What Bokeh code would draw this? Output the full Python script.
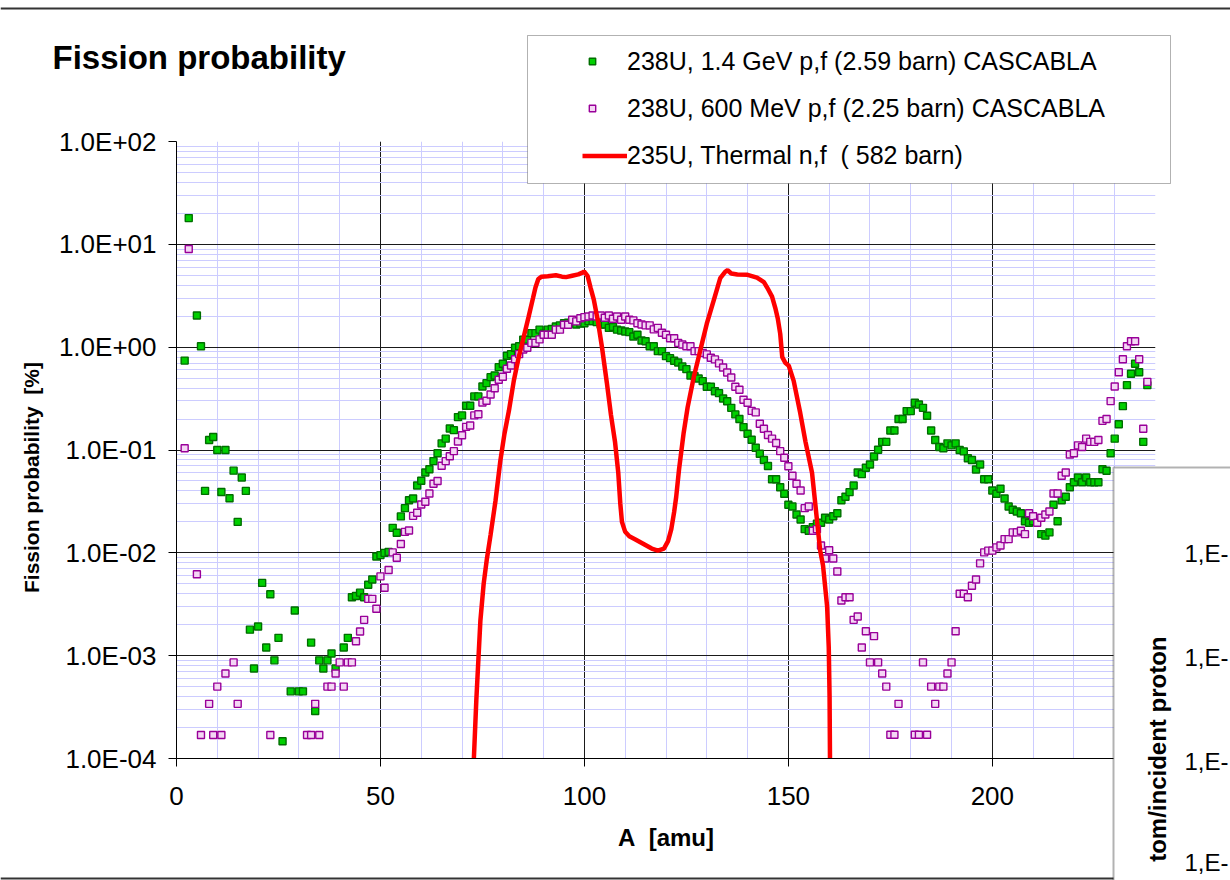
from bokeh.plotting import figure
from bokeh.layouts import column
from bokeh.models import (FixedTicker, CustomJSTickFormatter, Legend, LegendItem,
                          BoxAnnotation, Label, Range1d)
from bokeh.embed import file_html
from bokeh.resources import INLINE

# ---------------- data ----------------
green_A = [2, 3, 5, 6, 7, 8, 9, 10, 11, 12, 13, 14, 15, 16, 17, 18, 19, 20, 21, 22, 23, 24, 25, 26,
           28, 29, 30, 31, 33, 34, 35, 36, 37, 38, 39, 41, 42, 43, 44, 45, 46, 47, 48, 49, 50,
           51, 52, 53, 54, 55, 56, 57, 58, 59, 60, 61, 62, 63, 64, 65, 66, 67, 68, 69, 70,
           71, 72, 73, 74, 75, 76, 77, 78, 79, 80, 81, 82, 83, 84, 85, 86, 87, 88, 89, 90,
           91, 92, 93, 94, 95, 96, 97, 98, 99, 100, 101, 102, 103, 104, 105, 106, 107, 108, 109, 110,
           111, 112, 113, 114, 115, 116, 117, 118, 119, 120, 121, 122, 123, 124, 125, 126, 127, 128, 129, 130,
           131, 132, 133, 134, 135, 136, 137, 138, 139, 140, 141, 142, 143, 144, 145, 146, 147, 148, 149, 150,
           151, 152, 153, 154, 155, 156, 157, 158, 159, 160, 161, 162, 163, 164, 165, 166, 167, 168, 169, 170,
           171, 172, 173, 174, 175, 176, 177, 178, 179, 180, 181, 182, 183, 184, 185, 186, 187, 188, 189, 190,
           191, 192, 193, 194, 195, 196, 197, 198, 199, 200, 201, 202, 203, 204, 205, 206, 207, 208, 209, 210,
           212, 213, 214, 215, 216, 217, 218, 219, 220, 221, 222, 223, 224, 225, 226, 227, 228, 229, 230,
           231, 232, 233, 234, 235, 236, 237, 238]
green_P = [0.74, 18, 2.03, 1.02, 0.040, 0.125, 0.134, 0.10, 0.039, 0.10, 0.034, 0.063, 0.020, 0.054, 0.040,
           0.00179, 0.00075, 0.00192, 0.0051, 0.0012, 0.00396, 0.0009, 0.00149, 0.000147,
           0.00045, 0.00275, 0.00045, 0.00045, 0.00134, 0.00029, 0.0009, 0.00075, 0.0009, 0.00105, 0.00075,
           0.0012, 0.00149, 0.0037, 0.0038, 0.0041, 0.0037, 0.0049, 0.0055, 0.0092, 0.0095,
           0.0100, 0.0102, 0.0175, 0.0157, 0.0226, 0.0272, 0.0325, 0.0338, 0.0452, 0.0502,
           0.0604, 0.065, 0.078, 0.093, 0.116, 0.129, 0.162, 0.156, 0.209, 0.217,
           0.269, 0.269, 0.332, 0.332, 0.415, 0.447, 0.511, 0.531, 0.639, 0.69,
           0.824, 0.855, 0.986, 1.02, 1.18, 1.18, 1.37, 1.37, 1.48, 1.35,
           1.48, 1.50, 1.59, 1.63, 1.71, 1.73, 1.74, 1.66, 1.70, 1.71,
           1.79, 1.79, 1.75, 1.66, 1.66, 1.54, 1.57, 1.48, 1.45, 1.42,
           1.40, 1.27, 1.32, 1.16, 1.14, 1.02, 1.02, 0.915, 0.915, 0.818,
           0.782, 0.738, 0.71, 0.649, 0.611, 0.531, 0.522, 0.496, 0.467, 0.412,
           0.412, 0.373, 0.357, 0.317, 0.298, 0.257, 0.222, 0.20, 0.167, 0.144,
           0.126, 0.105, 0.092, 0.080, 0.070, 0.052, 0.052, 0.0435, 0.0375, 0.0293,
           0.0282, 0.0236, 0.0211, 0.017, 0.0164, 0.0178, 0.0192, 0.0196, 0.0219, 0.0211,
           0.0227, 0.0243, 0.0325, 0.0351, 0.0389, 0.0452, 0.0604, 0.0582, 0.0672, 0.0723,
           0.0865, 0.1005, 0.12, 0.12, 0.155, 0.155, 0.20, 0.20, 0.239, 0.239,
           0.288, 0.277, 0.257, 0.215, 0.155, 0.125, 0.107, 0.104, 0.116, 0.111,
           0.116, 0.10, 0.097, 0.083, 0.080, 0.0647, 0.0723, 0.052, 0.052, 0.0404,
           0.0375, 0.042, 0.0338, 0.0282, 0.0262, 0.0252, 0.0243, 0.0203, 0.0196, 0.0203,
           0.0152, 0.0147, 0.0158, 0.0293, 0.0203, 0.0325, 0.0351, 0.0435, 0.0486,
           0.054, 0.0486, 0.054, 0.0486, 0.0486, 0.0486, 0.065, 0.0628, 0.093, 0.129,
           0.178, 0.267, 0.427, 0.551, 0.69, 0.571, 0.12, 0.427]

purple_A = [2, 3, 5, 6, 8, 9, 10, 11, 12, 14, 15, 23, 32, 33, 34, 35, 37, 38, 39, 40,
            41, 42, 43, 44, 45, 46, 47, 48, 49, 50, 51, 52, 53, 54, 55, 56, 57, 58, 59, 60,
            61, 62, 63, 64, 65, 66, 67, 68, 69, 70, 71, 72, 73, 74, 75, 76, 77, 78, 79, 80,
            81, 82, 83, 84, 85, 86, 87, 88, 89, 90, 91, 92, 93, 94, 95, 96, 97, 98, 99, 100,
            101, 102, 103, 104, 105, 106, 107, 108, 109, 110, 111, 112, 113, 114, 115, 116, 117, 118, 119, 120,
            121, 122, 123, 124, 125, 126, 127, 128, 129, 130, 131, 132, 133, 134, 135, 136, 137, 138, 139, 140,
            141, 142, 143, 144, 145, 146, 147, 148, 149, 150, 151, 152, 153, 154, 155, 156, 157, 158, 159, 160,
            161, 162, 163, 164, 165, 166, 167, 168, 169, 170, 171, 172, 173, 174, 175, 176, 177,
            181, 182, 183, 184, 185, 186, 187, 188, 189, 190,
            191, 192, 193, 194, 195, 196, 197, 198, 199, 200, 201, 202, 203, 204, 205, 206, 207, 208, 209, 210,
            211, 212, 213, 214, 215, 216, 217, 218, 219, 220, 221, 222, 223, 224, 225, 226, 227, 228, 229, 230,
            231, 232, 233, 234, 235, 236, 237, 238]
purple_P = [0.104, 9.0, 0.0062, 0.000169, 0.00034, 0.000169, 0.0005, 0.000169, 0.00067, 0.00086, 0.00034,
            0.000169, 0.000169, 0.000169, 0.00034, 0.000169, 0.0005, 0.0005, 0.00067, 0.00086,
            0.0005, 0.00086, 0.00086, 0.00138, 0.00172, 0.00223, 0.00357, 0.00357, 0.00286, 0.0059,
            0.00457, 0.0068, 0.0101, 0.00895, 0.0122, 0.016, 0.0165, 0.0229, 0.0245, 0.0295,
            0.0314, 0.0378, 0.047, 0.050, 0.0703, 0.078, 0.087, 0.0975, 0.121, 0.139,
            0.168, 0.173, 0.217, 0.223, 0.290, 0.301, 0.347, 0.399, 0.482, 0.515,
            0.617, 0.664, 0.764, 0.855, 0.95, 0.986, 1.10, 1.10, 1.19, 1.32,
            1.32, 1.32, 1.48, 1.48, 1.65, 1.65, 1.85, 1.78, 1.91, 1.96,
            1.99, 2.03, 1.99, 2.03, 1.93, 2.03, 1.89, 1.99, 1.85, 1.99,
            1.85, 1.82, 1.71, 1.66, 1.63, 1.63, 1.49, 1.54, 1.38, 1.32,
            1.22, 1.22, 1.10, 1.06, 1.02, 1.02, 0.915, 0.915, 0.88, 0.85,
            0.788, 0.76, 0.695, 0.635, 0.568, 0.507, 0.412, 0.385, 0.308, 0.288,
            0.24, 0.232, 0.18, 0.161, 0.14, 0.129, 0.117, 0.0975, 0.084, 0.0696,
            0.0561, 0.0469, 0.0404, 0.0272, 0.0282, 0.0164, 0.017, 0.0118, 0.0088, 0.0106,
            0.0088, 0.00659, 0.00344, 0.0037, 0.0037, 0.00223, 0.0024, 0.0012, 0.00173, 0.00086,
            0.00155, 0.00086, 0.00067, 0.0005, 0.00017, 0.00017, 0.00034,
            0.00017, 0.00017, 0.00086, 0.00017, 0.0005, 0.00034, 0.0005, 0.0005, 0.00067, 0.00086,
            0.00173, 0.004, 0.004, 0.0037, 0.00478, 0.0055, 0.0079, 0.0101, 0.0105, 0.0105,
            0.0113, 0.0118, 0.0136, 0.0136, 0.0158, 0.0158, 0.0164, 0.0152, 0.0243, 0.0227,
            0.0196, 0.0219, 0.0236, 0.0252, 0.0378, 0.0378, 0.0561, 0.0604, 0.0905, 0.093,
            0.111, 0.107, 0.129, 0.12, 0.12, 0.125, 0.192, 0.20, 0.299, 0.415,
            0.571, 0.764, 1.02, 1.14, 1.14, 0.764, 0.161, 0.46]

red_A = [72.3, 72.9, 73.5, 74.5, 75.3, 76.1, 77.0, 78.2, 79.4, 80.4, 81.5, 82.7, 83.9, 85.1, 86.3,
         87.4, 88.0, 88.7, 89.5, 91.0, 93.0, 94.5, 95.5, 97.0, 98.5, 99.5, 99.9,
         100.8, 101.5, 102.3, 103.3, 104.3, 105.5, 106.5, 107.5, 108.3, 108.8, 109.2, 110.0,
         111.0, 112.5, 114.5, 116.5, 118.0, 119.5, 120.5, 121.3, 122.0, 122.5, 123.2, 124.3,
         125.3, 126.8, 128.4, 130.0, 131.7, 133.3, 134.5, 135.1, 136.0, 137.5, 140.0, 142.3,
         144.0, 144.8, 146.0, 146.8, 147.4, 148.0, 148.5, 149.3, 150.1, 151.3, 152.9, 154.2,
         155.8, 157.0, 157.8, 158.5, 159.5, 159.9, 160.1, 160.2, 160.3]
red_P = [5e-5, 1.0e-4, 3.7e-4, 2.2e-3, 0.005, 0.0088, 0.015, 0.032, 0.079, 0.144, 0.242, 0.474, 0.80, 1.25, 1.96,
         3.0, 3.8, 4.6, 4.85, 4.9, 5.0, 4.85, 4.8, 4.95, 5.1, 5.3, 5.45,
         4.9, 3.8, 2.9, 1.8, 1.0, 0.45, 0.22, 0.12, 0.06, 0.03, 0.02, 0.016,
         0.0145, 0.0135, 0.0122, 0.0110, 0.0105, 0.0110, 0.0130, 0.0170, 0.025, 0.035, 0.065, 0.144,
         0.26, 0.51, 0.93, 1.69, 2.85, 4.7, 5.4, 5.6, 5.2, 5.1, 5.05, 4.75,
         4.3, 3.8, 3.1, 2.4, 1.9, 1.35, 0.80, 0.70, 0.66, 0.47, 0.23, 0.12,
         0.06, 0.021, 0.0105, 0.0075, 0.003, 0.0012, 0.0004, 0.0001, 5e-5]

x_major = [0, 50, 100, 150, 200]
x_minor = list(range(0, 241, 10))
y_major = [1e-4, 1e-3, 1e-2, 1e-1, 1e0, 1e1, 1e2]
y_minor = [k * 10.0 ** e for e in range(-4, 2) for k in range(2, 10)]

title_text = "Fission probability"
x_title = "A\u00a0 [amu]"
y_title = "Fission probability\u00a0 [%]"
legend_labels = ["238U, 1.4 GeV p,f (2.59 barn) CASCABLA",
                 "238U, 600 MeV p,f (2.25 barn) CASCABLA",
                 "235U, Thermal n,f  ( 582 barn)"]
second_chart_ticks = ["1,E-", "1,E-", "1,E-", "1,E-"]
second_chart_title = "tom/incident proton"

# ---------------- layout ----------------
W, H = 1230, 880
FL, FR, FT, FB = 176, 1155, 141, 758   # chart frame edges in page pixels
FONT = "Liberation Sans"
NAN = float("nan")

GREEN = dict(marker="square", size=7, fill_color="#00d000", line_color="#006e00", line_width=1.4)
PURPLE = dict(marker="square", size=7, fill_color="#f4d6f4", line_color="#990099", line_width=1.4)
RED = dict(line_color="#ff0000", line_width=4.5)

# ===== main chart =====
p = figure(width=W, height=H, x_range=(0, 240), y_range=(1e-4, 1e2), y_axis_type="log",
           output_backend="svg", toolbar_location=None,
           min_border_left=FL, min_border_right=W - FR, min_border_top=FT, min_border_bottom=H - FB)
p.frame_align = False
p.outline_line_color = None
p.background_fill_color = "white"
p.border_fill_color = "white"

p.xaxis.ticker = FixedTicker(ticks=x_major, minor_ticks=x_minor)
p.yaxis.ticker = FixedTicker(ticks=y_major, minor_ticks=y_minor)
p.yaxis.formatter = CustomJSTickFormatter(code="""
const s = tick.toExponential(1).toUpperCase();
return s.replace(/E([+-])(\\d)$/, (m, a, b) => 'E' + a + '0' + b);
""")

for ax in (p.xaxis, p.yaxis):
    ax.axis_line_color = "black"
    ax.axis_line_width = 1
    ax.major_tick_out = 8
    ax.major_tick_in = 0
    ax.major_tick_line_color = "black"
    ax.minor_tick_out = 0
    ax.minor_tick_in = 0
    ax.major_label_text_font = FONT
    ax.major_label_text_font_size = "26px"
    ax.major_label_text_color = "black"
    ax.axis_label_text_font = FONT
    ax.axis_label_text_font_style = "bold"
    ax.axis_label_text_color = "black"

p.xaxis.axis_label = x_title
p.xaxis.axis_label_text_font_size = "24px"
p.xaxis.major_label_standoff = 20
p.yaxis.major_label_standoff = 12
p.xaxis.axis_label_standoff = 16

for g in (p.xgrid, p.ygrid):
    g.grid_line_color = "#1a1a1a"
    g.grid_line_width = 1
    g.minor_grid_line_color = "#ccccff"
    g.minor_grid_line_width = 1

p.scatter(green_A, green_P, **GREEN)
p.scatter(purple_A, purple_P, **PURPLE)
p.line(red_A, red_P, **RED)

# ===== transparent overlay page (titles, legend box, overlapping second chart) =====
q = figure(width=W, height=H, x_range=Range1d(0, W), y_range=Range1d(H, 0),
           output_backend="svg", toolbar_location=None, title=None,
           x_axis_location=None, y_axis_location=None,
           min_border=0, min_border_left=0, min_border_right=0, min_border_top=0, min_border_bottom=0)
q.frame_align = False
q.outline_line_color = None
q.background_fill_alpha = 0
q.border_fill_alpha = 0
q.xgrid.visible = False
q.ygrid.visible = False
q.margin = (-H, 0, 0, 0)

q.add_layout(Label(x=52, y=57, text=title_text, text_font=FONT, text_font_style="bold",
                   text_font_size="33px", text_baseline="middle", text_align="left",
                   text_color="black"))
# y-axis title of the main chart (placed as in the reference)
q.add_layout(Label(x=31, y=477, text=y_title, angle=1.5707963, text_font=FONT,
                   text_font_style="bold", text_font_size="21px", text_baseline="middle",
                   text_align="center", text_color="black"))

# slide frame lines
q.add_layout(BoxAnnotation(left=0, right=W, top=7, bottom=9, fill_color="#333333",
                           fill_alpha=1, line_color=None))
q.add_layout(BoxAnnotation(left=0, right=1114, top=877, bottom=879, fill_color="#333333",
                           fill_alpha=1, line_color=None))

# legend box
q.add_layout(BoxAnnotation(left=527, right=1170, top=35, bottom=183, fill_color="white",
                           fill_alpha=1, line_color="black", line_width=1))
lg_g = q.scatter([NAN], [NAN], **GREEN)
lg_p = q.scatter([NAN], [NAN], **PURPLE)
lg_none = q.scatter([NAN], [NAN], marker="square", size=1, fill_alpha=0, line_alpha=0)
lg_r = q.line([NAN, NAN], [NAN, NAN], **RED)

# legend texts (and the red line sample)
legend = Legend(items=[LegendItem(label=legend_labels[0], renderers=[lg_none]),
                       LegendItem(label=legend_labels[1], renderers=[lg_none]),
                       LegendItem(label=legend_labels[2], renderers=[lg_r])],
                location=(582, H - 179), padding=0, margin=0, spacing=0,
                border_line_color=None, background_fill_alpha=0,
                glyph_width=45, glyph_height=47, label_height=47, label_standoff=0,
                label_text_font=FONT, label_text_font_size="25px", label_text_color="black")
q.add_layout(legend, "center")
# small marker samples of the two scatter series (Excel-style small squares)
marker_legend = Legend(items=[LegendItem(label=" ", renderers=[lg_g]),
                              LegendItem(label=" ", renderers=[lg_p])],
                       location=(584, H - 116), padding=0, margin=0, spacing=31,
                       border_line_color=None, background_fill_alpha=0,
                       glyph_width=16, glyph_height=16, label_height=16, label_standoff=0,
                       label_width=1, label_text_font_size="1px")
q.add_layout(marker_legend, "center")

# overlapping (cut) second chart in the lower right
q.add_layout(BoxAnnotation(left=1113, right=W + 10, top=467, bottom=H + 10, fill_color="white",
                           fill_alpha=1, line_color="black", line_width=2))
for t, cy in zip(second_chart_ticks, (553, 657, 761, 862)):
    q.add_layout(Label(x=1184, y=cy, text=t, text_font=FONT, text_font_size="24px",
                       text_baseline="middle", text_align="left", text_color="black"))
q.add_layout(Label(x=1157, y=636, text=second_chart_title, angle=1.5707963, text_font=FONT,
                   text_font_style="bold", text_font_size="24px", text_baseline="middle",
                   text_align="right", text_color="black"))

layout = column(p, q, spacing=0)
open("out.html", "w").write(file_html(layout, INLINE))
